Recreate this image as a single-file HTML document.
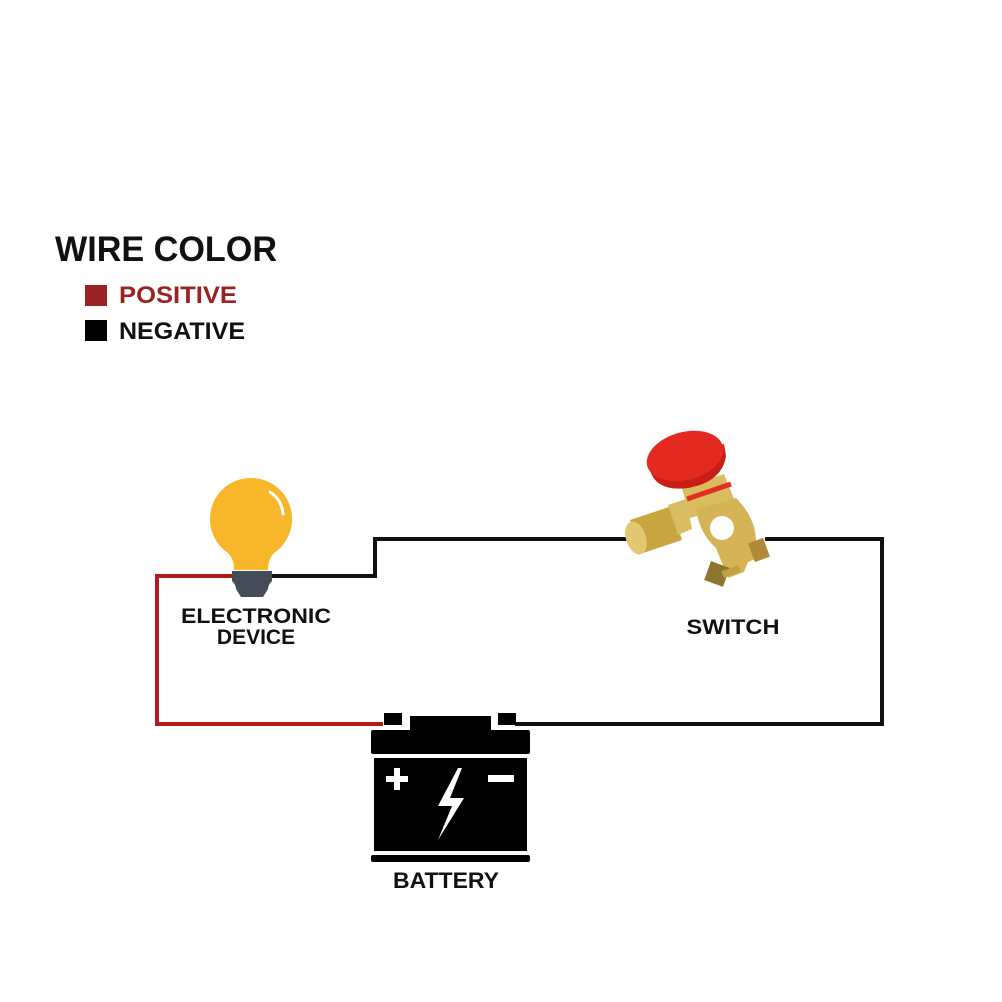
<!DOCTYPE html>
<html><head><meta charset="utf-8"><style>
html,body{margin:0;padding:0;background:#fff;}
svg{display:block;font-family:"Liberation Sans",sans-serif;}
</style></head><body>
<svg width="1002" height="1002" viewBox="0 0 1002 1002" xmlns="http://www.w3.org/2000/svg">
<rect width="1002" height="1002" fill="#fff"/>
<text x="55" y="261" font-size="35" font-weight="bold" fill="#111" textLength="222" lengthAdjust="spacingAndGlyphs">WIRE COLOR</text>
<rect x="85" y="285" width="22" height="21" fill="#9b2222"/>
<text x="119" y="303" font-size="24" font-weight="bold" fill="#9b2222" textLength="118" lengthAdjust="spacingAndGlyphs">POSITIVE</text>
<rect x="85" y="320" width="22" height="21" fill="#000"/>
<text x="119" y="339" font-size="24" font-weight="bold" fill="#111" textLength="126" lengthAdjust="spacingAndGlyphs">NEGATIVE</text>

<!-- wires -->
<polyline points="383,724 157,724 157,576 240,576" fill="none" stroke="#b01c1c" stroke-width="4"/>
<polyline points="268,576 375,576 375,539 640,539" fill="none" stroke="#111" stroke-width="4"/>
<polyline points="765,539 882,539 882,724 515,724" fill="none" stroke="#111" stroke-width="4"/>

<!-- bulb -->
<path d="M251,478 a41,41 0 0 1 23,75 q-6,6 -6,17 h-34 q0,-11 -6,-17 a41,41 0 0 1 23,-75z" fill="#f8b62a"/>
<path d="M270,492 q12,8 13,22" stroke="#fff" stroke-width="3" fill="none" stroke-linecap="round"/>
<path d="M232,571 h40 v10 q-4,4 -4,8 l-5,8 h-22 l-5,-8 q0,-4 -4,-8z" fill="#444c58"/>
<text x="256" y="623" font-size="21" font-weight="bold" fill="#111" text-anchor="middle" textLength="150" lengthAdjust="spacingAndGlyphs">ELECTRONIC</text>
<text x="256" y="644" font-size="21" font-weight="bold" fill="#111" text-anchor="middle">DEVICE</text>

<!-- switch -->
<g>
<!-- left cylinder -->
<path d="M630,520 l42,-14 l10,34 l-42,14z" fill="#c9a540"/>
<ellipse cx="636" cy="538" rx="10" ry="17" fill="#e3c872" transform="rotate(-18 636 538)"/>
<path d="M668,505 l18,-6 l6,30 l-14,6z" fill="#d8bc62"/>
<!-- neck -->
<path d="M682,488 l42,-14 l12,30 l-46,14z" fill="#d9bc60"/>
<path d="M687,499 l44,-15" stroke="#e03020" stroke-width="5"/>
<!-- clamp -->
<path d="M696,510 l40,-12 q20,20 20,44 l6,14 l-14,6 l-4,10 l-16,6 l-12,-30 q-16,-14 -20,-38z" fill="#d4b455"/>
<circle cx="722" cy="528" r="12" fill="#fff"/>
<rect x="751" y="540" width="16" height="20" fill="#b08a38" transform="rotate(-20 759 550)"/>
<rect x="707" y="564" width="20" height="20" fill="#8e7630" transform="rotate(20 717 574)"/>
<rect x="722" y="568" width="18" height="7" fill="#c0a040" transform="rotate(-20 731 571)"/>
<!-- red cap -->
<path d="M650,470 q6,22 38,18 q34,-6 38,-32 l-2,-12 l-74,14z" fill="#c81e16"/>
<ellipse cx="685" cy="456" rx="39" ry="24" fill="#e42a20" transform="rotate(-15 685 456)"/>
</g>
<text x="733" y="634" font-size="21" font-weight="bold" fill="#111" text-anchor="middle" textLength="93" lengthAdjust="spacingAndGlyphs">SWITCH</text>

<!-- battery -->
<rect x="384" y="713" width="18" height="12" fill="#000"/>
<rect x="498" y="713" width="18" height="12" fill="#000"/>
<rect x="410" y="716" width="81" height="16" fill="#000"/>
<rect x="371" y="730" width="159" height="24" rx="2" fill="#000"/>
<rect x="374" y="758" width="153" height="93" fill="#000"/>
<rect x="371" y="855" width="159" height="7" rx="2" fill="#000"/>
<path d="M386,776 h8 v-8 h6 v8 h8 v6 h-8 v8 h-6 v-8 h-8z" fill="#fff"/>
<rect x="488" y="775" width="26" height="7" fill="#fff"/>
<path d="M458,768 l-20,38 h14 l-14,34 l26,-42 h-14 l12,-30z" fill="#fff"/>
<text x="446" y="888" font-size="22" font-weight="bold" fill="#111" text-anchor="middle" textLength="106" lengthAdjust="spacingAndGlyphs">BATTERY</text>
</svg>
</body></html>
